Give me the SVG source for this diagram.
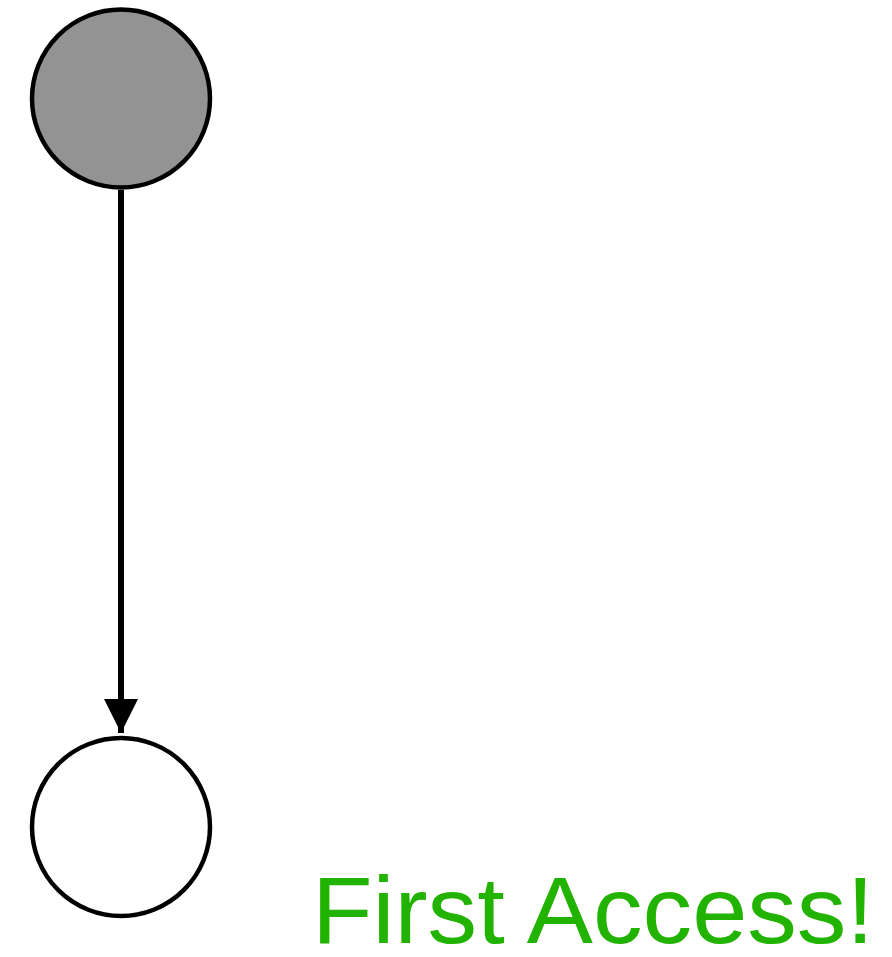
<svg xmlns="http://www.w3.org/2000/svg" width="892" height="957" viewBox="0 0 892 957">
<style>
.node{stroke:#000;stroke-width:4.5}
.edge{stroke:#000;stroke-width:6;fill:none}
.label{font-family:"Liberation Sans",Arial,sans-serif;font-size:94px;fill:#22b200}
</style>
<defs>
<marker id="arrow" markerUnits="userSpaceOnUse" markerWidth="36" markerHeight="34" refX="34" refY="17" orient="auto">
<path d="M0,0 L34,17 L0,34 Z" fill="#000"/>
</marker>
</defs>
<rect width="892" height="957" fill="#fff"/>
<g id="connectors">
<line class="edge" x1="121" y1="190" x2="121" y2="733" marker-end="url(#arrow)"/>
</g>
<g id="start">
<circle class="node" cx="121" cy="98.5" r="89" fill="#939393"/>
</g>
<g id="end">
<circle class="node" cx="121" cy="827" r="89" fill="#fff"/>
</g>
<g id="label">
<text class="label" x="312" y="943" textLength="562" lengthAdjust="spacingAndGlyphs">First Access!</text>
</g>
</svg>
